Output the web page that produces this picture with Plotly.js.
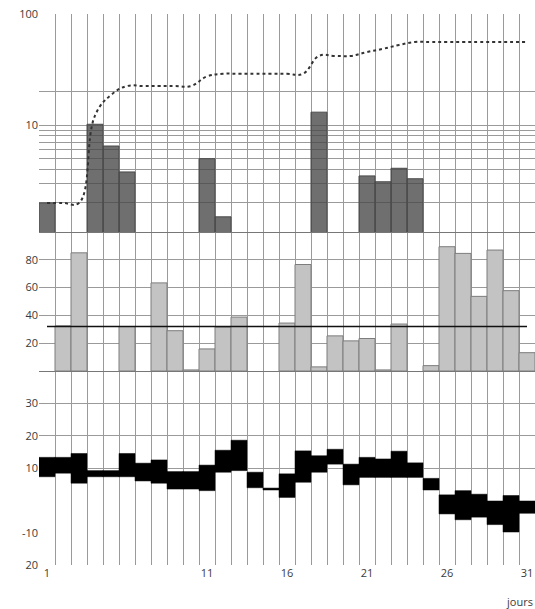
<!DOCTYPE html>
<html>
<head>
<meta charset="utf-8">
<script src="https://cdn.plot.ly/plotly-3.0.1.min.js"></script>
<style>html,body{margin:0;padding:0;background:#fff}#chart{width:535px;height:609px}</style>
</head>
<body>
<div id="chart"></div>
<script>
// ---- data ----
const days = [1,2,3,4,5,6,7,8,9,10,11,12,13,14,15,16,17,18,19,20,21,22,23,24,25,26,27,28,29,30,31];
// precipitation (log panel), null = no rain
const pluie = [2.0,null,null,10.2,6.5,3.8,null,null,null,null,5.0,1.5,null,null,null,null,null,13.1,null,null,3.5,3.1,4.1,3.3,null,null,null,null,null,null,null];
// cumulated precipitation (dotted line)
const cumul = [2.0,2.0,2.0,12.2,18.7,22.5,22.5,22.5,22.5,22.5,27.5,29,29,29,29,29,29,42,42,42,45.5,48.6,52.7,56,56,56,56,56,56,56,56];
// middle panel values
const valeurs = [null,32.5,85,null,null,32,null,63.4,29,0.8,15.9,31.6,38.8,null,null,34.5,76.6,3,25.3,21.7,23.4,0.8,33.8,null,3.9,89.4,84.6,53.7,87,57.8,13.2];
const moyenneJours = [1,31];
const moyenne = [32,32];
// temperatures
const tmax = [13.3,13.3,14.5,9.2,9.2,14.5,11.5,12.5,8.9,8.9,10.9,15.5,18.6,8.7,3.8,8.2,15.3,13.8,15.8,11.2,13.3,12.8,15.2,11.6,6.8,1.7,3.0,1.9,-0.2,1.5,-0.2];
const tmin = [7.3,8.4,5.3,7.3,7.3,7.3,6.0,5.3,3.5,3.5,3.0,8.7,9.2,3.9,3.2,0.9,5.6,8.7,11.2,4.8,7.1,7.1,7.1,7.1,3.2,-4.2,-6.0,-5.2,-7.5,-9.8,-4.0];
const xTicks = [1,11,16,21,26,31];
const tempTicks = [-20,-10,0,10,20,30];
const tempText = ["20","-10","","10","20","30"];
const valTicks = [20,40,60,80];
const logTicks = [10,100];
const logGrid = [2,3,4,5,6,7,8,9,10,20];
const tempGrid = [10,20,30];

// ---- chart ----
const edges = [];
for (let i = 0; i <= days.length; i++) edges.push(days[0] - 0.5 + i);
const gridC = '#9a9a9a';
const fnt = {family: 'Open Sans, sans-serif', size: 11, color: '#3a3a3a'};

const trBase = days.map((d, i) => tmin[i]);
const trLen = days.map((d, i) => tmax[i] - tmin[i]);

const traces = [
  {type: 'bar', x: days, y: trLen, base: trBase, xaxis: 'x', yaxis: 'y',
   marker: {color: '#000', line: {color: '#000', width: 0.5}}, hoverinfo: 'skip'},
  {type: 'bar', x: days, y: valeurs, xaxis: 'x2', yaxis: 'y2',
   marker: {color: '#c3c3c3', line: {color: '#7d7d7d', width: 1}}},
  {type: 'scatter', mode: 'lines', x: moyenneJours, y: moyenne, xaxis: 'x2', yaxis: 'y2',
   line: {color: '#111', width: 1.5}},
  {type: 'bar', x: days, y: pluie, xaxis: 'x3', yaxis: 'y3',
   marker: {color: 'rgba(70,70,70,0.78)', line: {color: '#4a4a4a', width: 1}}},
  {type: 'scatter', mode: 'lines', x: days, y: cumul, xaxis: 'x3', yaxis: 'y3',
   line: {color: '#333', width: 2, dash: 'dot', shape: 'spline', smoothing: 1.2}}
];

const xCommon = {
  range: [0.5, 31.5], showgrid: false, zeroline: false, ticks: '',
  minor: {tickvals: edges, showgrid: true, gridcolor: gridC, gridwidth: 1, ticks: ''},
  tickfont: fnt, fixedrange: true
};

const layout = {
  width: 535, height: 609,
  margin: {l: 39, r: 0, t: 14, b: 44},
  paper_bgcolor: '#fff', plot_bgcolor: '#fff',
  showlegend: false, bargap: 0,
  font: fnt,
  xaxis: Object.assign({}, xCommon, {anchor: 'y', tickmode: 'array', tickvals: xTicks,
    ticktext: xTicks.map(String), showline: false}),
  xaxis2: Object.assign({}, xCommon, {anchor: 'y2', matches: 'x', showticklabels: false,
    showline: true, linecolor: '#777', linewidth: 1}),
  xaxis3: Object.assign({}, xCommon, {anchor: 'y3', matches: 'x', showticklabels: false,
    showline: true, linecolor: '#777', linewidth: 1}),
  yaxis: {domain: [0, 0.352], range: [-20, 40], tickmode: 'array', tickvals: tempTicks,
    ticktext: tempText, showgrid: false, zeroline: false, ticks: '', tickfont: fnt,
    minor: {tickvals: tempGrid, showgrid: true, gridcolor: gridC, ticks: ''}},
  yaxis2: {domain: [0.352, 0.6044], range: [0, 100], tickmode: 'array', tickvals: valTicks,
    ticktext: valTicks.map(String), showgrid: true, gridcolor: gridC, zeroline: false,
    ticks: '', tickfont: fnt},
  yaxis3: {domain: [0.6044, 1], type: 'log', range: [0.04, 2], tickmode: 'array',
    tickvals: logTicks, ticktext: logTicks.map(String), showgrid: false, zeroline: false,
    ticks: '', tickfont: fnt,
    minor: {tickvals: logGrid, showgrid: true, gridcolor: gridC, ticks: ''}},
  annotations: [
    {text: 'jours', xref: 'paper', yref: 'paper', x: 0.9375, y: -0.066,
     xanchor: 'left', yanchor: 'middle', showarrow: false, font: fnt}
  ]
};

Plotly.newPlot('chart', traces, layout, {displayModeBar: false, staticPlot: true});
</script>
</body>
</html>
